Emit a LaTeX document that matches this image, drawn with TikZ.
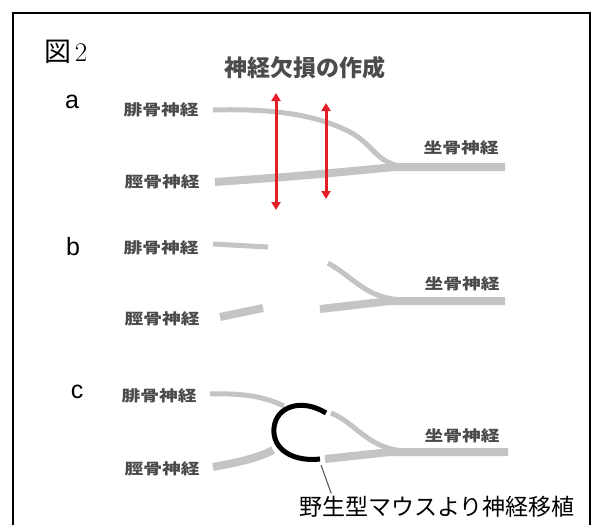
\documentclass[tikz,border=0pt]{standalone}
\usepackage{fontspec}
\setsansfont{Liberation Sans}
\newfontfamily\jp{Noto Sans CJK JP}
\usetikzlibrary{calc,arrows.meta}
\definecolor{cutred}{RGB}{228,30,38}
\definecolor{nervegray}{RGB}{196,196,196}
\definecolor{lblgray}{RGB}{75,75,75}

\begin{document}
\begin{tikzpicture}[x=1pt,y=-1pt,inner sep=0pt,outer sep=0pt,
    every node/.style={font=\jp},
    nervelbl/.style={font=\jp\bfseries\fontsize{15}{15}\selectfont, text=lblgray, xscale=1.25},
    panel/.style={font=\sffamily\fontsize{25}{25}\selectfont},
    thinnerve/.style={draw=nervegray, line width=5pt},
    thicknerve/.style={draw=nervegray, line width=8pt},
    cut/.style={draw=cutred, line width=3pt, {Triangle[length=8pt,width=9pt]}-{Triangle[length=8pt,width=9pt]}}]
    \useasboundingbox (0,0) rectangle (592,525);
    \fill[white] (0,0) rectangle (592,525);
    % frame
    \draw[line width=2pt] (13,526) -- (13,13) -- (590,13) -- (590,526);

    % heading
    \node (fig_no) at (66,52) {\fontsize{27}{27}\selectfont 図\hspace{3pt}{\rmfamily 2}};
    \node[font=\jp\bfseries\fontsize{23}{23}\selectfont, text=lblgray] (title) at (305,68) {神経欠損の作成};

    % a: nerve defect
    \node[panel] (pa) at (72,102) {a};
    \node[nervelbl] (a_fib) at (161,110) {腓骨神経};
    \node[nervelbl] (a_tib) at (162,182) {脛骨神経};
    \node[nervelbl] (a_sci) at (461,148) {坐骨神経};
    \path[thinnerve] (213,110) .. controls (285,108) and (322,118) .. (350,132)
        .. controls (376,146) and (376,166) .. (410,167);
    \path[thicknerve] (215,182) .. controls (300,176) .. (395,167) -- (505,167);
    \coordinate (cut1_top) at (276,93);
    \coordinate (cut1_bot) at (276,210);
    \coordinate (cut2_top) at (326,103);
    \coordinate (cut2_bot) at (326,199);
    \draw[cut] (cut1_top) -- (cut1_bot);
    \draw[cut] (cut2_top) -- (cut2_bot);

    % b: after removal
    \node[panel] (pb) at (73,247) {b};
    \node[nervelbl] (b_fib) at (161,248) {腓骨神経};
    \node[nervelbl] (b_tib) at (162,319) {脛骨神経};
    \node[nervelbl] (b_sci) at (462,284) {坐骨神経};
    \path[thinnerve] (213,244) -- (268,247);
    \path[thicknerve] (220,317) -- (263,308);
    \path[thinnerve] (328,263) .. controls (356,279) and (366,299) .. (405,300);
    \path[thicknerve] (320,309) -- (390,301) -- (505,301);

    % c: graft
    \node[panel] (pc) at (77,392) {c};
    \node[nervelbl] (c_fib) at (159,396) {腓骨神経};
    \node[nervelbl] (c_tib) at (162,469) {脛骨神経};
    \node[nervelbl] (c_sci) at (462,436) {坐骨神経};
    \path[thinnerve] (210,394) .. controls (245,393) and (265,397) .. (284,406);
    \path[thinnerve] (331,413) .. controls (356,423) and (368,449) .. (405,451);
    \path[thicknerve] (213,467) .. controls (240,462) and (258,458) .. (273,450);
    \path[thicknerve] (325,459) -- (390,452) -- (508,452);
    \draw[line width=5pt] (326,413) .. controls (302,398) and (276,406) .. (274,428)
        .. controls (272,450) and (294,462) .. (320,459);
    \coordinate (graft) at (321,465);
    \node[font=\jp\fontsize{23}{23}\selectfont] (graft_lbl) at (437,507) {野生型マウスより神経移植};
    \draw[black!70, line width=1pt] (graft) -- ($(graft_lbl.north west)+(32,-3)$);
\end{tikzpicture}
\end{document}
